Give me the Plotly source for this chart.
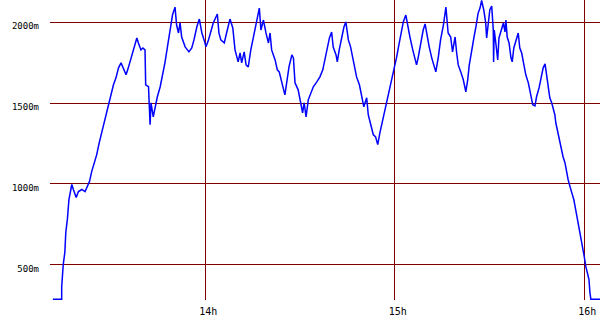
import plotly.graph_objects as go

# minutes after 13:00
minutes = [11.7, 14.5, 14.5, 15.0, 15.5, 15.8, 16.3, 16.8, 17.4, 17.7, 18.2, 19.1, 19.8, 20.9, 21.9, 22.5,
           23.3, 24.0, 24.9, 25.6, 26.4, 27.2, 27.9, 28.8, 29.6, 30.4, 30.9, 31.7, 32.5, 33.3, 34.0, 34.9,
           35.6, 36.5, 37.2, 38.3, 38.8, 39.6, 40.2, 40.9, 41.1, 42.0, 42.5, 42.8, 43.5, 44.1, 44.8, 45.7,
           46.4, 47.2, 48.0, 48.8, 49.6, 50.4, 50.9, 51.5, 52.0, 52.5, 53.6, 54.8, 55.7, 56.4, 57.3, 58.1,
           58.9, 59.6, 60.2, 61.0, 61.7, 62.5, 63.8, 64.3, 64.9, 66.0, 66.8, 67.8, 68.7, 69.4, 70.4, 71.0,
           71.5, 72.3, 72.9, 73.6, 74.4, 75.2, 76.3, 77.1, 77.6, 78.4, 79.2, 80.0, 80.5, 81.0, 82.1, 82.8,
           83.4, 84.2, 85.2, 85.8, 86.5, 87.4, 87.9, 88.4, 89.4, 90.2, 90.8, 91.3, 91.9, 92.6, 93.4, 94.2,
           95.3, 96.3, 97.2, 97.9, 98.4, 99.3, 100.0, 100.5, 101.4, 101.8, 102.4, 103.2, 103.9, 104.5, 105.3,
           106.0, 106.9, 107.4, 107.9, 108.8, 109.5, 110.2, 111.1, 111.6, 112.4, 113.2, 113.9, 114.6, 115.3,
           116.2, 116.9, 117.6, 118.5, 119.3, 120.1, 120.6, 121.3, 122.0, 122.7, 123.5, 124.1, 124.8, 125.7,
           126.4, 126.9, 127.4, 128.2, 129.0, 129.6, 130.3, 130.9, 131.7, 132.4, 133.0, 133.8, 134.5, 135.4,
           135.9, 136.2, 136.9, 137.7, 138.3, 139.1, 139.6, 140.1, 140.9, 141.7, 142.5, 143.1, 143.6, 144.3,
           145.1, 145.7, 146.4, 147.0, 147.5, 148.2, 148.8, 149.1, 149.6, 150.1, 150.7, 151.2, 151.3, 151.5,
           152.0, 152.6, 153.0, 153.8, 154.4, 154.9, 155.2, 155.6, 156.2, 156.8, 157.2, 157.7, 158.4, 159.1,
           159.6, 160.2, 160.9, 161.5, 162.3, 163.0, 163.7, 164.4, 164.9, 165.7, 166.3, 167.0, 167.6, 168.1,
           168.6, 169.1, 169.7, 170.2, 170.7, 171.0, 171.6, 172.1, 172.6, 173.3, 173.9, 174.4, 174.9, 175.5,
           176.0, 176.7, 177.4, 177.9, 178.4, 178.9, 179.5, 180.0, 180.5, 180.9, 181.5, 181.8, 182.1, 185.0]

altitude = [286, 286, 360, 502, 576, 699, 780, 903, 965, 996, 965, 915, 952, 965, 952, 983,
            1014, 1076, 1132, 1181, 1255, 1317, 1378, 1440, 1502, 1564, 1613, 1656, 1718, 1749, 1718, 1675,
            1718, 1780, 1841, 1903, 1872, 1829, 1841, 1829, 1613, 1601, 1366, 1502, 1415, 1477, 1539, 1601,
            1662, 1749, 1848, 1953, 2045, 2094, 1983, 1934, 1996, 1909, 1848, 1817, 1841, 1891, 1971, 2020,
            1934, 1891, 1848, 1891, 1934, 1996, 2051, 1934, 1891, 1872, 1940, 2020, 1965, 1829, 1755, 1810,
            1749, 1817, 1736, 1724, 1829, 1909, 2027, 2088, 1952, 2014, 1934, 1872, 1934, 1829, 1767, 1706,
            1693, 1625, 1551, 1631, 1724, 1798, 1780, 1625, 1582, 1502, 1440, 1502, 1415, 1520, 1564, 1601,
            1631, 1662, 1706, 1767, 1829, 1903, 1940, 1847, 1798, 1755, 1829, 1909, 1971, 2002, 1891,
            1848, 1755, 1724, 1662, 1613, 1533, 1477, 1533, 1428, 1366, 1304, 1292, 1243, 1317,
            1397, 1446, 1520, 1594, 1662, 1724, 1786, 1860, 1934, 2002, 2045, 1971, 1909, 1829,
            1767, 1736, 1780, 1872, 1952, 1990, 1909, 1848, 1780, 1736, 1693, 1786, 1891, 1983,
            2057, 2094, 1934, 1909, 1817, 1909, 1810, 1736, 1693, 1644, 1570, 1644, 1736, 1829,
            1909, 1971, 2057, 2088, 2135, 2076, 1996, 1903, 2014, 2076, 2100, 1952, 1755, 1952,
            1872, 1767, 1903, 1952, 1996, 1940, 2014, 1909, 1872, 1780, 1755, 1841, 1891, 1934,
            1841, 1810, 1736, 1675, 1625, 1551, 1490, 1483, 1539, 1594, 1656, 1718, 1743, 1662,
            1594, 1533, 1502, 1459, 1428, 1378, 1323, 1273, 1224, 1168, 1131, 1076, 1027, 983,
            946, 903, 829, 780, 718, 668, 613, 551, 489, 459, 409, 329, 286, 286]

x_ticks = [14, 15, 16]
x_tick_labels = ["14h", "15h", "16h"]
y_ticks = [500, 1000, 1500, 2000]
y_tick_labels = ["500m", "1000m", "1500m", "2000m"]

hours = [13 + m / 60 for m in minutes]

fig = go.Figure(go.Scatter(x=hours, y=altitude, mode="lines",
                           line=dict(color="#0000ff", width=1.5), hoverinfo="skip"))

grid = "#800000"
fig.update_layout(
    width=600, height=330,
    margin=dict(l=50, r=0, t=0, b=30),
    paper_bgcolor="white", plot_bgcolor="white",
    showlegend=False,
    font=dict(family="DejaVu Sans Mono", color="black"),
)
fig.update_xaxes(range=[13 + 10.8 / 60, 13 + 185.0 / 60],
                 tickvals=x_ticks, ticktext=x_tick_labels,
                 showgrid=True, gridcolor=grid, gridwidth=1,
                 zeroline=False, showline=False, ticks="",
                 tickfont=dict(size=10), ticklabelstandoff=4, ticklabelshift=3)
fig.update_yaxes(range=[281, 2138],
                 tickvals=y_ticks, ticktext=y_tick_labels,
                 showgrid=True, gridcolor=grid, gridwidth=1,
                 zeroline=False, showline=False, ticks="",
                 tickfont=dict(size=9), ticklabelstandoff=10, ticklabelshift=4)

fig.write_html("out.html")
